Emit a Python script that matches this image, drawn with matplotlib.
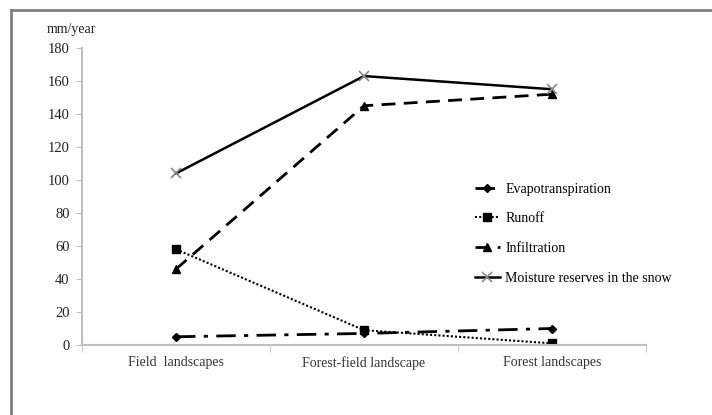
import matplotlib
matplotlib.use("Agg")
import matplotlib.pyplot as plt
from matplotlib.lines import Line2D

categories = ["Field  landscapes", "Forest-field landscape", "Forest landscapes"]
evapotranspiration = [5, 7, 10]
runoff = [58, 9, 1]
infiltration = [46, 145, 152]
moisture_snow = [104, 163, 155]
y_ticks = [0, 20, 40, 60, 80, 100, 120, 140, 160, 180]

plt.rcParams['font.family'] = ['Liberation Serif', 'DejaVu Serif']

fig = plt.figure(figsize=(7.12, 4.15), dpi=100)
fig.patch.set_facecolor('white')
ax = fig.add_axes([82/712, 1-345/415, 564/712, 297/415])

x = [0, 1, 2]
ax.plot(x, evapotranspiration, color='black', lw=2, dashes=(7, 3, 1.5, 3), marker='D', ms=4.5, label='Evapotranspiration')
ax.plot(x, runoff, color='black', lw=1.5, linestyle=(0, (1, 1)), marker='s', ms=6, label='Runoff')
ax.plot(x, infiltration, color='black', lw=2, dashes=(5, 3), marker='^', ms=6, label='Infiltration')
ax.plot(x, moisture_snow, color='black', lw=1.8, linestyle='-', marker='x', ms=7, mec='#888888', mew=1.2, label='Moisture reserves in the snow')

ax.set_xlim(-0.5, 2.5)
ax.set_ylim(0, 180)
ax.set_yticks(y_ticks)
ax.set_xticks(x)
ax.set_xticklabels(categories, fontsize=10)
ax.set_xticks([-0.5, 0.5, 1.5, 2.5], minor=True)
ax.tick_params(axis='x', which='major', length=0, pad=8, colors='#333333')
ax.tick_params(axis='x', which='minor', length=5, color='#bfbfbf', direction='out')
ax.tick_params(axis='y', length=4, color='#bfbfbf', labelsize=10.5, labelcolor='#222222', pad=5)
for s in ['top', 'right']:
    ax.spines[s].set_visible(False)
for s in ['left', 'bottom']:
    ax.spines[s].set_color('#bfbfbf')
    ax.spines[s].set_linewidth(1.5)

fig.text(47/712, 1-29/415, 'mm/year', fontsize=10, va='center', ha='left', color='#222222')

leg = ax.legend(loc='upper left', bbox_to_anchor=((462-82)/564, (345-170)/297), frameon=False,
                fontsize=10, labelspacing=1.2, handlelength=1.8, handletextpad=0.4)

fig.add_artist(Line2D([11/712, 11/712], [0, 1-10/415], color='#808080', lw=2, transform=fig.transFigure))
fig.add_artist(Line2D([11/712, 1], [1-10/415, 1-10/415], color='#808080', lw=2, transform=fig.transFigure))

fig.savefig('out.png', dpi=100)
